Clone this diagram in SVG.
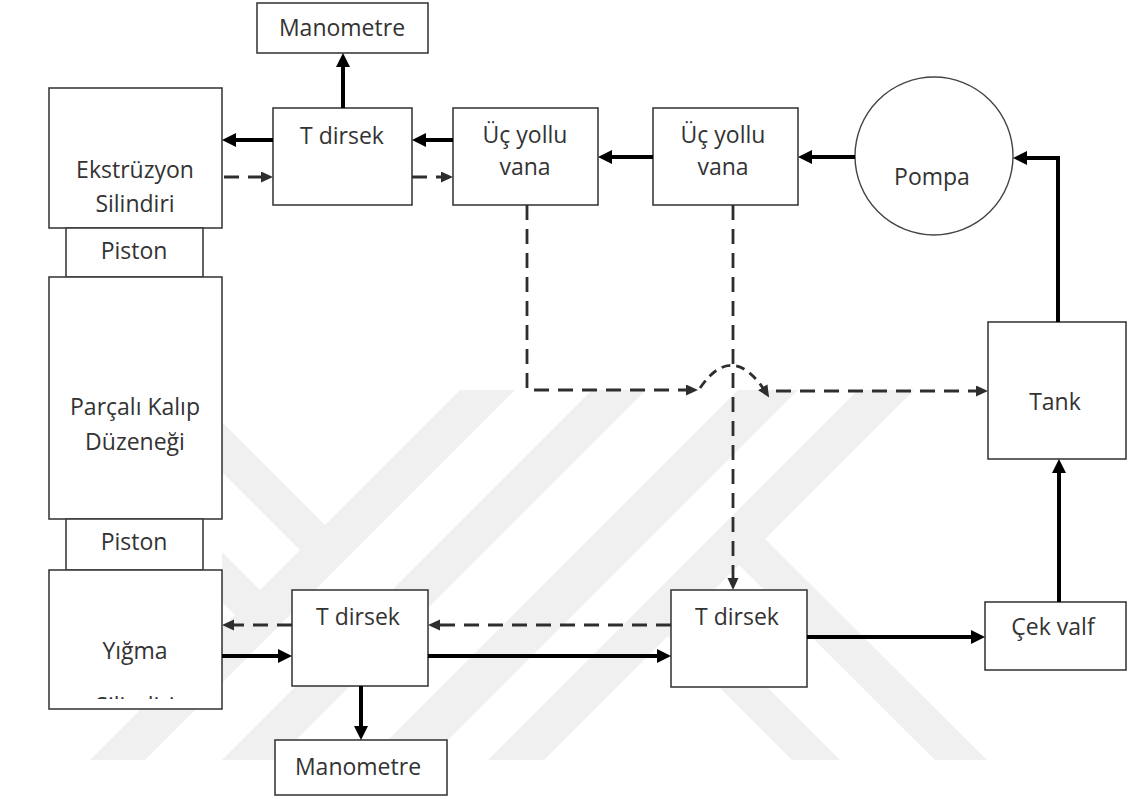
<svg xmlns="http://www.w3.org/2000/svg" width="1128" height="799" viewBox="0 0 1128 799">
<style>
.box{fill:#fff;stroke:#3c3c3c;stroke-width:1.6}
.t{font-family:"Open Sans","Liberation Sans",sans-serif;font-size:23px;fill:#333;text-anchor:middle}
.s{fill:none;stroke:#000;stroke-width:4}
.d{fill:none;stroke:#2e2e2e;stroke-width:2.8;stroke-dasharray:15 9}
.wm{fill:#f0f0f0}
</style>
<defs>
<marker id="as" markerWidth="16" markerHeight="16" refX="8" refY="7" orient="auto" markerUnits="userSpaceOnUse"><path d="M0,0 L14,7 L0,14 z" fill="#000"/></marker>
<marker id="ad" markerWidth="14" markerHeight="14" refX="8" refY="5.5" orient="auto" markerUnits="userSpaceOnUse"><path d="M0,0 L12,5.5 L0,11 z" fill="#2e2e2e"/></marker>
<clipPath id="yclip"><rect x="49" y="570" width="173" height="129"/></clipPath>
</defs>
<rect width="1128" height="799" fill="#fff"/>
<g id="watermark">
<polygon class="wm" points="90,760 145,760 515,390 460,390"/>
<polygon class="wm" points="222,760 276,760 646,390 592,390"/>
<polygon class="wm" points="368,760 428,760 798,390 738,390"/>
<polygon class="wm" points="488,760 544,760 914,390 858,390"/>
<polygon class="wm" points="222,422 330,530 305,555 222,472"/>
<polygon class="wm" points="222,552 265,595 240,620 222,602"/>
<polygon class="wm" points="763,537 987,760 935,760 737,563"/>
<polygon class="wm" points="690,610 840,760 792,760 666,634"/>
</g>
<g id="man_top"><rect class="box" x="257" y="3" width="171" height="50"/><text class="t" x="342" y="36">Manometre</text></g>
<g id="ekstruzyon"><rect class="box" x="49" y="88" width="173" height="140"/><text class="t" x="135" y="178">Ekstrüzyon</text><text class="t" x="135" y="212">Silindiri</text></g>
<g id="piston1"><rect class="box" x="66" y="228" width="137" height="49"/><text class="t" x="134" y="259">Piston</text></g>
<g id="parcali"><rect class="box" x="49" y="277" width="173" height="242"/><text class="t" x="135" y="415">Parçalı Kalıp</text><text class="t" x="135" y="450">Düzeneği</text></g>
<g id="piston2"><rect class="box" x="66" y="519" width="137" height="51"/><text class="t" x="134" y="550">Piston</text></g>
<g id="yigma"><rect class="box" x="49" y="570" width="173" height="139"/><text class="t" x="135" y="659">Yığma</text><text class="t" x="135" y="714" clip-path="url(#yclip)">Silindiri</text></g>
<g id="tdirsek_top"><rect class="box" x="273" y="108" width="139" height="97"/><text class="t" x="342" y="144">T dirsek</text></g>
<g id="ucyollu1"><rect class="box" x="453" y="108" width="145" height="97"/><text class="t" x="525" y="143">Üç yollu</text><text class="t" x="525" y="175">vana</text></g>
<g id="ucyollu2"><rect class="box" x="653" y="108" width="145" height="97"/><text class="t" x="723" y="143">Üç yollu</text><text class="t" x="723" y="175">vana</text></g>
<g id="pompa"><circle cx="934" cy="156" r="79" fill="#fff" stroke="#444" stroke-width="1.4"/><text class="t" x="932" y="185">Pompa</text></g>
<g id="tank"><rect class="box" x="988" y="322" width="138" height="137"/><text class="t" x="1055" y="410">Tank</text></g>
<g id="cekvalf"><rect class="box" x="985" y="602" width="141" height="68"/><text class="t" x="1053" y="635">Çek valf</text></g>
<g id="tdirsek_bl"><rect class="box" x="292" y="590" width="136" height="96"/><text class="t" x="358" y="625">T dirsek</text></g>
<g id="tdirsek_br"><rect class="box" x="671" y="590" width="136" height="97"/><text class="t" x="737" y="625">T dirsek</text></g>
<g id="man_bot"><rect class="box" x="275" y="740" width="172" height="55"/><text class="t" x="358" y="775">Manometre</text></g>
<g id="connectors">
<path class="s" d="M343,108 V59" marker-end="url(#as)"/>
<path class="s" d="M273,140 H228" marker-end="url(#as)"/>
<path class="s" d="M453,140 H418" marker-end="url(#as)"/>
<path class="s" d="M653,157 H604" marker-end="url(#as)"/>
<path class="s" d="M855,157 H804" marker-end="url(#as)"/>
<path class="s" d="M1058,322 V158 H1019" marker-end="url(#as)"/>
<path class="s" d="M1059,602 V465" marker-end="url(#as)"/>
<path class="s" d="M807,637 H979" marker-end="url(#as)"/>
<path class="s" d="M222,656 H286" marker-end="url(#as)"/>
<path class="s" d="M428,656 H665" marker-end="url(#as)"/>
<path class="s" d="M361,686 V734" marker-end="url(#as)"/>
<path class="d" d="M224,177 H269" marker-end="url(#ad)"/>
<path class="d" d="M412,177 H449" marker-end="url(#ad)"/>
<path class="d" d="M527,205 V390 H694" marker-end="url(#ad)"/>
<path class="d" d="M700,388 Q733,340 767,394" marker-end="url(#ad)" style="stroke-dasharray:9 6"/>
<path class="d" d="M776,391 H984" marker-end="url(#ad)"/>
<path class="d" d="M733,205 V586" marker-end="url(#ad)"/>
<path class="d" d="M671,625 H432" marker-end="url(#ad)"/>
<path class="d" d="M292,625 H226" marker-end="url(#ad)"/>
</g>
</svg>
